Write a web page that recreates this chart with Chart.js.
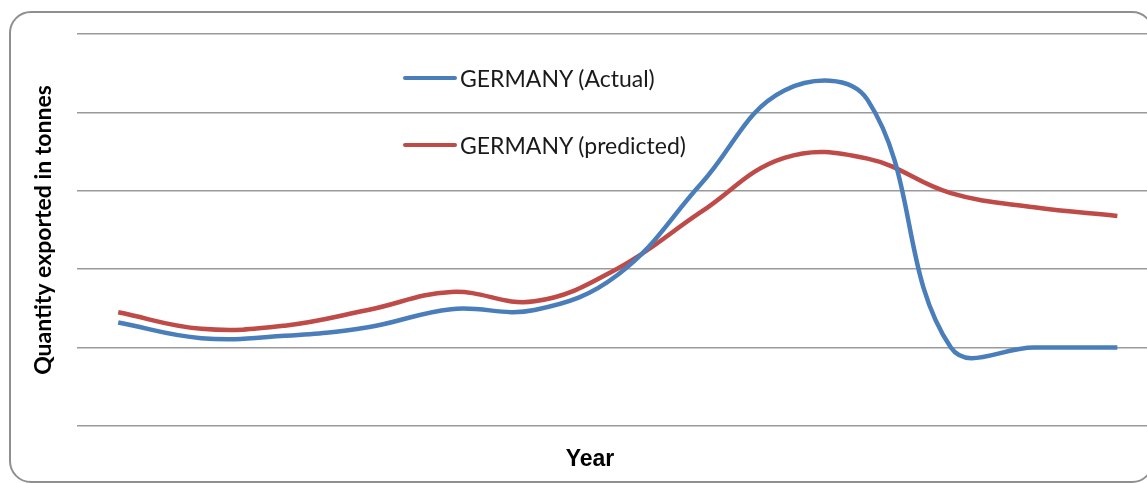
<!DOCTYPE html>
<html>
<head>
<meta charset="utf-8">
<script src="https://cdn.jsdelivr.net/npm/chart.js@4.4.0/dist/chart.umd.min.js"></script>
<style>
  html, body { margin: 0; padding: 0; background: #fff; overflow: hidden; }
  body { width: 1147px; height: 483px; position: relative; }
  #frame { position: absolute; left: 9px; top: 11px; width: 1145px; height: 472px; box-sizing: border-box;
           border: 2px solid #8f8f8f; border-radius: 22px; }
  #wrap { position: absolute; left: 0; top: 0; width: 1175px; height: 483px; }
  #legend { position: absolute; left: 403px; top: 64px; font-family: Lato, sans-serif; font-size: 23px; color: #1a1a1a; }
  .item { display: flex; align-items: center; height: 28px; margin-bottom: 39px; }
  .swatch { width: 54px; height: 4px; border-radius: 2px; margin-right: 3px; }
  #xTitle { position: absolute; left: 540px; width: 100px; top: 445px; text-align: center;
            font-family: "Liberation Sans", Arial, sans-serif; font-weight: bold; font-size: 23px; color: #000; }
</style>
</head>
<body>
<div id="frame"></div>
<div id="wrap"><canvas id="chart"></canvas></div>
<div id="legend"></div>
<div id="xTitle">Year</div>
<script>
// 13 yearly points (gridline = 100)
const years = ['2000', '2001', '2002', '2003', '2004', '2005', '2006', '2007', '2008', '2009', '2010', '2011', '2012'];
const actual = [132, 112, 115, 126, 149, 148, 193, 309, 428, 416, 100, 100, 100];
const predicted = [145, 124, 128, 148, 171, 159, 201, 273, 342, 341, 297, 279, 268];

const seriesNames = ['GERMANY (Actual)', 'GERMANY (predicted)'];
const seriesColors = ['#4a7ebb', '#be4b48'];

const ctx = document.getElementById('chart').getContext('2d');
const chart = new Chart(ctx, {
  type: 'line',
  data: {
    labels: years,
    datasets: [
      { label: seriesNames[0], data: actual, borderColor: seriesColors[0], borderWidth: 4.5,
        pointRadius: 0, tension: 0.4, fill: false },
      { label: seriesNames[1], data: predicted, borderColor: seriesColors[1], borderWidth: 4.5,
        pointRadius: 0, tension: 0.4, fill: false }
    ]
  },
  options: {
    responsive: true,
    maintainAspectRatio: false,
    animation: false,
    layout: { padding: { left: 0, top: 34, right: 16, bottom: 57 } },
    plugins: { legend: { display: false }, tooltip: { enabled: false } },
    scales: {
      x: {
        offset: true,
        grid: { display: false, drawTicks: false },
        border: { display: false },
        ticks: { display: false }
      },
      y: {
        min: 0, max: 500,
        ticks: { display: false, stepSize: 100 },
        grid: { color: '#9a9a9a', lineWidth: 1.5, drawTicks: false },
        border: { display: false },
        title: {
          display: true,
          text: 'Quantity exported in tonnes',
          color: '#000',
          font: { family: 'Lato', weight: 'bold', size: 23, lineHeight: 1.2 },
          padding: { top: 30, bottom: 19 }
        }
      }
    }
  }
});

// legend built from the datasets, stacked with wide spacing like the original
const legendEl = document.getElementById('legend');
chart.data.datasets.forEach(ds => {
  const row = document.createElement('div');
  row.className = 'item';
  row.innerHTML = `<span class="swatch" style="background:${ds.borderColor}"></span><span>${ds.label}</span>`;
  legendEl.appendChild(row);
});
</script>
</body>
</html>
